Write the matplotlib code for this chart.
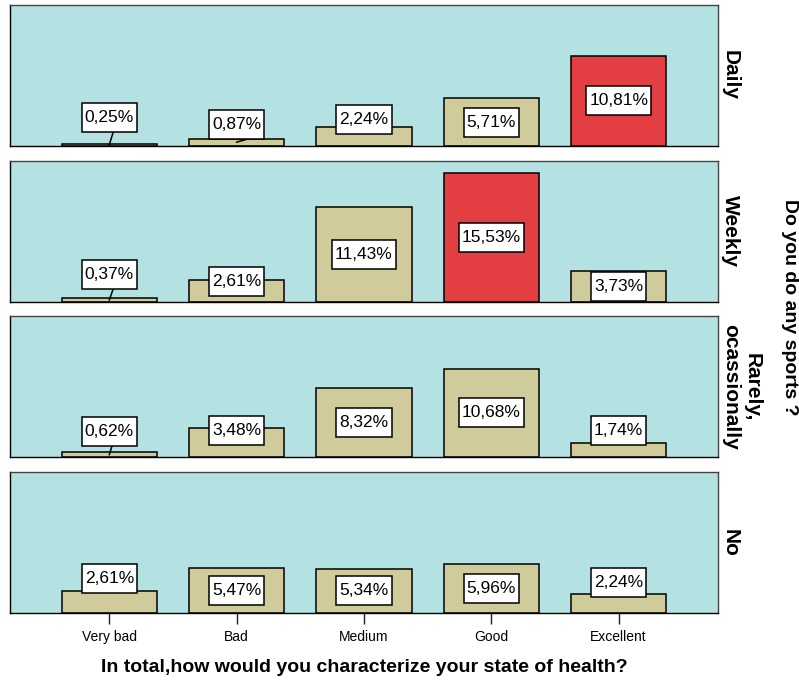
import numpy as np
import matplotlib.pyplot as plt
from matplotlib.patches import Rectangle

plt.rcParams['font.family'] = ['Liberation Sans', 'DejaVu Sans']

health = ['Very bad', 'Bad', 'Medium', 'Good', 'Excellent']
sports = ['Daily', 'Weekly', 'Rarely,\nocassionally', 'No']

daily = [0.25, 0.87, 2.24, 5.71, 10.81]
weekly = [0.37, 2.61, 11.43, 15.53, 3.73]
rarely = [0.62, 3.48, 8.32, 10.68, 1.74]
never = [2.61, 5.47, 5.34, 5.96, 2.24]
rows = [daily, weekly, rarely, never]

# cells drawn in red
highlight = [(0, 4), (1, 3)]

# short bars: label centre is lifted to this height instead of v/2
lifted = {(0, 0): 3.37, (0, 1): 2.58, (0, 2): 3.13,
          (1, 0): 3.25, (1, 1): 2.4,
          (2, 0): 3.07, (2, 1): 3.25, (2, 4): 3.25,
          (3, 0): 4.2, (3, 4): 3.67}
# tiny bars get a leader line (x shift of its top end)
leaders = {(0, 0): 0.03, (0, 1): 0.09, (1, 0): 0.03, (2, 0): 0.02}

BG = '#b4e1e1'
TAN = '#cfcb9a'
RED = '#e33e42'
W, H = 799, 684

fig = plt.figure(figsize=(W / 100, H / 100), dpi=100)
gs = fig.add_gridspec(4, 1, left=10 / W, right=718 / W, top=1 - 5 / H,
                      bottom=1 - 613 / H, hspace=15 / 141)
x = np.arange(len(health))
axes = []
texts = []
for r, vals in enumerate(rows):
    ax = fig.add_subplot(gs[r])
    axes.append(ax)
    ax.set_facecolor(BG)
    cols = [RED if (r, c) in highlight else TAN for c in range(len(vals))]
    ax.bar(x, vals, width=0.75, color=cols, edgecolor='black', linewidth=1.1,
           zorder=2)
    ax.set_xlim(-0.78, 4.78)
    ax.set_ylim(0, 16.95)
    ax.set_yticks([])
    for s in ax.spines.values():
        s.set_color('#444444')
        s.set_linewidth(1.0)
    ax.spines['bottom'].set_color('black')
    ax.spines['left'].set_color('black')
    if r < len(rows) - 1:
        ax.tick_params(bottom=False, labelbottom=False)
    else:
        ax.set_xticks(x)
        ax.set_xticklabels(health)
        ax.tick_params(axis='x', length=8, width=1.0, pad=4, labelsize=10,
                       color='#222222')
    ax.text(1.004, 0.5, sports[r], transform=ax.transAxes, rotation=270,
            ha='left', va='center', fontsize=15, fontweight='bold',
            multialignment='center')
    for c, v in enumerate(vals):
        yl = lifted.get((r, c), v / 2)
        t = ax.text(c, yl, ('%.2f%%' % v).replace('.', ','), ha='center',
                    va='center', fontsize=12.5, zorder=6)
        texts.append((ax, r, c, v, t))

fig.text(364 / W, 1 - 668 / H,
         'In total,how would you characterize your state of health?',
         ha='center', va='center', fontsize=14, fontweight='bold')
fig.text(781 / W, 1 - 307 / H, 'Do you do any sports ?', rotation=270,
         ha='left', va='center', fontsize=14, fontweight='bold')

# white label boxes sized in pixels around each text
fig.canvas.draw()
renderer = fig.canvas.get_renderer()
for ax, r, c, v, t in texts:
    bb = t.get_window_extent(renderer)
    cx, cy = (bb.x0 + bb.x1) / 2, (bb.y0 + bb.y1) / 2
    hw, hh = bb.width / 2 + 3, 14.5
    inv = ax.transData.inverted()
    (x0, y0), (x1, y1) = inv.transform([(cx - hw, cy - hh), (cx + hw, cy + hh)])
    ax.add_patch(Rectangle((x0, y0), x1 - x0, y1 - y0, facecolor='white',
                           edgecolor='black', linewidth=1.1, zorder=5))
    if (r, c) in leaders:
        ax.plot([c + leaders[(r, c)], c], [y0, v / 2], color='black',
                linewidth=1.1, zorder=4)

fig.savefig('out.png', dpi=100)
